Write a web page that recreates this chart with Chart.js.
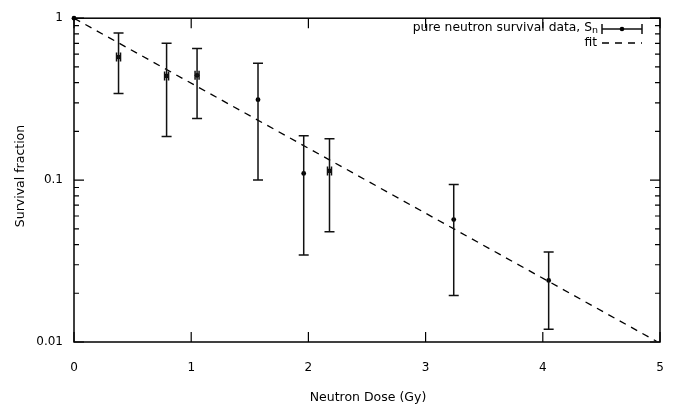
<!DOCTYPE html>
<html>
<head>
<meta charset="utf-8">
<script src="https://cdn.jsdelivr.net/npm/chart.js@4"></script>
<style>
html, body { margin: 0; padding: 0; background: #fff; }
</style>
</head>
<body>
<canvas id="survivalChart" width="684" height="411"></canvas>
<script>
// neutron dose (Gy) and measured survival fraction, with error bounds
const doseGy = [0, 0.38, 0.79, 1.05, 1.57, 1.96, 2.18, 3.24, 4.05];
const doseErr = [0, 0.017, 0.017, 0.017, 0, 0, 0.017, 0, 0];
const survival = [1, 0.575, 0.44, 0.444, 0.314, 0.11, 0.114, 0.057, 0.024];
const survivalHigh = [1, 0.81, 0.70, 0.65, 0.527, 0.188, 0.18, 0.094, 0.036];
const survivalLow = [1, 0.343, 0.186, 0.24, 0.100, 0.0345, 0.048, 0.0194, 0.012];

// exponential fit, straight on the log axis
const fitDose = [0, 4.97];
const fitSurvival = [1, 0.0101];

const xTicks = [0, 1, 2, 3, 4, 5];
const yTicks = [0.01, 0.1, 1];

const FONT = "'DejaVu Sans', Verdana, sans-serif";
Chart.defaults.font.family = FONT;
Chart.defaults.font.size = 12;
Chart.defaults.color = '#000';

var points = doseGy.map(function (d, i) { return {x: d, y: survival[i]}; });
var fitPoints = fitDose.map(function (d, i) { return {x: d, y: fitSurvival[i]}; });

var errorBars = {
    id: 'errorBars',
    afterDatasetsDraw: function (chart) {
        var ctx = chart.ctx;
        var xs = chart.scales.x, ys = chart.scales.y;
        var cap = 5;
        ctx.save();
        ctx.strokeStyle = '#111';
        ctx.lineWidth = 1.5;
        for (var i = 0; i < doseGy.length; i++) {
            var px = xs.getPixelForValue(doseGy[i]);
            var py = ys.getPixelForValue(survival[i]);
            if (survivalHigh[i] !== survivalLow[i]) {
                var top = ys.getPixelForValue(survivalHigh[i]);
                var bot = ys.getPixelForValue(survivalLow[i]);
                ctx.beginPath();
                ctx.moveTo(px, top); ctx.lineTo(px, bot);
                ctx.moveTo(px - cap, top); ctx.lineTo(px + cap, top);
                ctx.moveTo(px - cap, bot); ctx.lineTo(px + cap, bot);
                ctx.stroke();
            }
            if (doseErr[i] > 0) {
                var l = xs.getPixelForValue(doseGy[i] - doseErr[i]);
                var r = xs.getPixelForValue(doseGy[i] + doseErr[i]);
                ctx.beginPath();
                ctx.moveTo(l, py); ctx.lineTo(r, py);
                ctx.moveTo(l, py - cap + 0.5); ctx.lineTo(l, py + cap - 0.5);
                ctx.moveTo(r, py - cap + 0.5); ctx.lineTo(r, py + cap - 0.5);
                ctx.stroke();
            }
        }
        ctx.restore();
    }
};

var frame = {
    id: 'frame',
    afterDraw: function (chart) {
        var ctx = chart.ctx;
        var a = chart.chartArea;
        var xs = chart.scales.x, ys = chart.scales.y;
        ctx.save();
        ctx.strokeStyle = '#000';
        ctx.lineWidth = 1.5;
        ctx.strokeRect(a.left, a.top, a.right - a.left, a.bottom - a.top);

        ctx.lineWidth = 1.2;
        ctx.beginPath();
        // x major ticks, inward at bottom and top
        xTicks.forEach(function (v) {
            var px = xs.getPixelForValue(v);
            ctx.moveTo(px, a.bottom); ctx.lineTo(px, a.bottom - 10);
            ctx.moveTo(px, a.top); ctx.lineTo(px, a.top + 10);
        });
        // y log ticks, left and right
        for (var dec = 0.01; dec < 1.001; dec *= 10) {
            for (var m = 1; m <= 9; m++) {
                var v = dec * m;
                if (v > 1.0001) break;
                var py = ys.getPixelForValue(v);
                var len = (m === 1) ? 10 : 5;
                ctx.moveTo(a.left, py); ctx.lineTo(a.left + len, py);
                ctx.moveTo(a.right, py); ctx.lineTo(a.right - len, py);
            }
        }
        ctx.stroke();

        // axis titles
        ctx.fillStyle = '#000';
        ctx.font = '12.5px ' + FONT;
        ctx.textAlign = 'center';
        ctx.textBaseline = 'middle';
        ctx.fillText('Neutron Dose (Gy)', 368, 398);
        ctx.save();
        ctx.translate(21, 176);
        ctx.rotate(-Math.PI / 2);
        ctx.fillText('Survival fraction', 0, 0);
        ctx.restore();

        // key
        ctx.textAlign = 'right';
        var sub = 'n';
        ctx.font = '9.5px ' + FONT;
        var subW = ctx.measureText(sub).width;
        ctx.fillText(sub, 598, 31);
        ctx.font = '12.3px ' + FONT;
        ctx.fillText('pure neutron survival data, S', 598 - subW, 28);
        ctx.fillText('fit', 597, 43);

        ctx.lineWidth = 1.5;
        ctx.strokeStyle = '#111';
        ctx.beginPath();
        ctx.moveTo(602, 29); ctx.lineTo(642, 29);
        ctx.moveTo(602, 24); ctx.lineTo(602, 34);
        ctx.moveTo(642, 24); ctx.lineTo(642, 34);
        ctx.stroke();
        ctx.fillStyle = '#000';
        ctx.beginPath();
        ctx.arc(622, 29, 2.3, 0, Math.PI * 2);
        ctx.fill();

        ctx.lineWidth = 1.3;
        ctx.strokeStyle = '#000';
        ctx.setLineDash([7, 6]);
        ctx.beginPath();
        ctx.moveTo(602, 43); ctx.lineTo(642, 43);
        ctx.stroke();
        ctx.restore();
    }
};

var ctx = document.getElementById('survivalChart').getContext('2d');
var chart = new Chart(ctx, {
    type: 'scatter',
    data: {
        datasets: [{
            label: 'pure neutron survival data, Sn',
            data: points,
            backgroundColor: '#000',
            borderColor: '#000',
            pointRadius: 2.4,
            pointBorderWidth: 0,
            showLine: false,
            clip: false
        }, {
            label: 'fit',
            data: fitPoints,
            type: 'line',
            borderColor: '#000',
            borderWidth: 1.3,
            borderDash: [7, 6],
            pointRadius: 0,
            fill: false
        }]
    },
    options: {
        responsive: false,
        animation: false,
        layout: {padding: {top: 11, right: 24, left: 0, bottom: 0}},
        plugins: {legend: {display: false}, tooltip: {enabled: false}},
        scales: {
            x: {
                type: 'linear',
                min: 0,
                max: 5,
                afterBuildTicks: function (s) { s.ticks = xTicks.map(function (v) { return {value: v}; }); },
                ticks: {padding: 19, maxRotation: 0},
                grid: {display: false, drawTicks: false},
                border: {display: false},
                afterFit: function (s) { s.height = 69; }
            },
            y: {
                type: 'logarithmic',
                min: 0.01,
                max: 1,
                afterBuildTicks: function (s) { s.ticks = yTicks.map(function (v) { return {value: v}; }); },
                ticks: {padding: 11, callback: function (v) { return String(v); }},
                grid: {display: false, drawTicks: false},
                border: {display: false},
                afterFit: function (s) { s.width = 74; }
            }
        }
    },
    plugins: [errorBars, frame]
});
</script>
</body>
</html>
